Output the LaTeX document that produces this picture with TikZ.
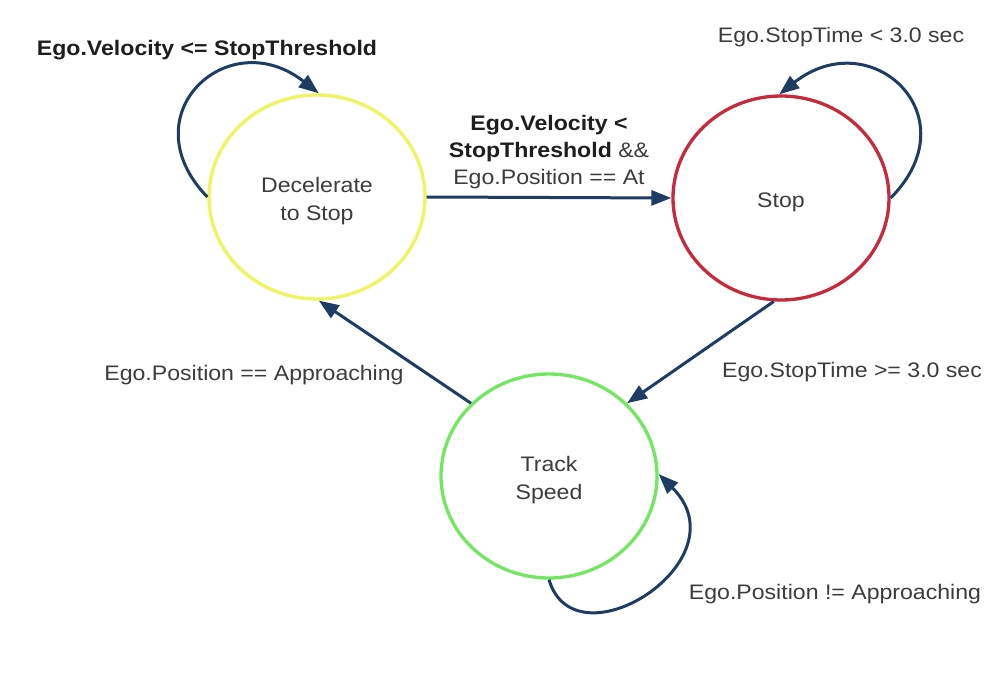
\documentclass[tikz,border=0pt]{standalone}
\usepackage{fontspec}
\setmainfont{Liberation Sans}[FakeStretch=1.1]
\usetikzlibrary{arrows.meta,shapes.geometric}
\definecolor{arrowblue}{HTML}{1F3D63}
\definecolor{ylw}{HTML}{EEF55E}
\definecolor{rd}{HTML}{C62A3C}
\definecolor{grn}{HTML}{72E860}
\definecolor{txt}{HTML}{3C3C3C}
\definecolor{btxt}{HTML}{1E1E1E}
\begin{document}
\begin{tikzpicture}[x=1pt,y=-1pt,
  state/.style={ellipse, draw, line width=3.3pt, minimum width=216pt, minimum height=204pt,
    inner sep=0pt},
  stext/.style={align=center, font=\fontsize{21}{28}\selectfont, text=txt, inner sep=0pt},
  arr/.style={draw=arrowblue, line width=3pt, -{Triangle[length=20pt,width=15pt]}},
  lbl/.style={font=\fontsize{21}{27}\selectfont, text=txt, align=center, inner sep=0pt},
  blbl/.style={font=\fontsize{21}{27}\selectfont\bfseries, text=btxt, align=center, inner sep=0pt}]
\useasboundingbox[fill=white] (0,0) rectangle (1002,695);

\node[state, draw=ylw] (dec) at (317,197) {};
\node[state, draw=rd] (stop) at (781,198) {};
\node[state, draw=grn] (track) at (549,476) {};
\node[stext] (dect) at ([yshift=-4pt]dec.center) {Decelerate\\to Stop};
\node[stext] (stopt) at ([yshift=-4pt]stop.center) {Stop};
\node[stext] (trackt) at ([yshift=-4pt]track.center) {Track\\Speed};

% transitions
\draw[arr] (dec.east) -- (stop.west);
\draw[arr] (stop.266) -- (track.43);
\draw[arr] (track.137) -- (dec.-89);

% self loops
\draw[arr] (dec.180) .. controls (128,115) and (228,22) .. (dec.89);
\draw[arr] (stop.0) .. controls (972,116) and (871,22) .. (stop.91);
\draw[arr] (track.-90) .. controls (575,668) and (745,560) .. (track.1);

% labels
\node[blbl] (l1) at (207,50) {Ego.Velocity <= StopThreshold};
\node[lbl] (l2) at (549,152) {\textbf{\color{btxt}Ego.Velocity <}\\\textbf{\color{btxt}StopThreshold} \&\&\\Ego.Position == At};
\node[lbl] (l3) at (841,37) {Ego.StopTime < 3.0 sec};
\node[lbl] (l4) at (852,372) {Ego.StopTime >= 3.0 sec};
\node[lbl] (l5) at (254,375) {Ego.Position == Approaching};
\node[lbl] (l6) at (835,594) {Ego.Position != Approaching};
\end{tikzpicture}
\end{document}
